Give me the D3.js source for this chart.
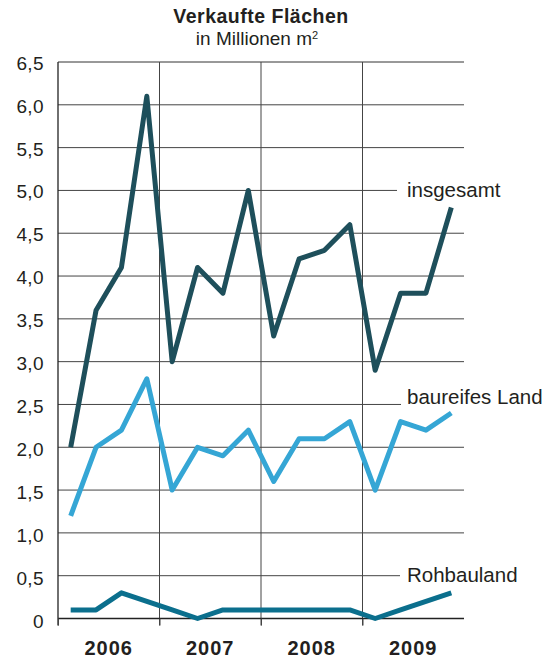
<!DOCTYPE html>
<html lang="de">
<head>
<meta charset="UTF-8">
<title>Verkaufte Flächen</title>
<style>
  body { margin: 0; background: #fff; }
  text { font-family: "Liberation Sans", Arial, sans-serif; fill: #231f20; }
</style>
</head>
<body>
<div id="chart"></div>
<script src="https://cdn.jsdelivr.net/npm/d3@7"></script>
<script>
// Daten (Quartale 2006-2009)
const years = ['2006', '2007', '2008', '2009']
const insgesamt = [2.0, 3.6, 4.1, 6.1, 3.0, 4.1, 3.8, 5.0, 3.3, 4.2, 4.3, 4.6, 2.9, 3.8, 3.8, 4.8]
const baureif = [1.2, 2.0, 2.2, 2.8, 1.5, 2.0, 1.9, 2.2, 1.6, 2.1, 2.1, 2.3, 1.5, 2.3, 2.2, 2.4]
const rohbau = [0.1, 0.1, 0.3, 0.2, 0.1, 0.0, 0.1, 0.1, 0.1, 0.1, 0.1, 0.1, 0.0, 0.1, 0.2, 0.3]
const yTicks = [0, 0.5, 1, 1.5, 2, 2.5, 3, 3.5, 4, 4.5, 5, 5.5, 6, 6.5]
const seriesNames = ['insgesamt', 'baureifes Land', 'Rohbauland']

let width = 560
let height = 662
let padLeft = 58, padRight = 464, padTop = 62, padBottom = 618.5

let svg = d3.select('#chart').append('svg').attr('width', width).attr('height', height)

let x = d3.scaleLinear().domain([0, insgesamt.length]).range([padLeft, padRight])
let y = d3.scaleLinear().domain([0, 6.5]).range([padBottom, padTop])

// Titel
svg.append('text').text('Verkaufte Flächen')
  .attr('x', 261).attr('y', 23).attr('text-anchor', 'middle')
  .style('font-weight', 'bold').style('font-size', '19.5px').style('letter-spacing', '0.5px')
let sub = svg.append('text').attr('x', 257).attr('y', 45).attr('text-anchor', 'middle').style('font-size', '19px')
sub.append('tspan').text('in Millionen m')
sub.append('tspan').text('2').attr('dy', -6).style('font-size', '11px')

// Gitternetz waagerecht; Linien neben den Beschriftungen kürzer
const shortLines = { 5: 397, 2.5: 401, 0.5: 400 }
svg.append('g').selectAll('line').data(yTicks.filter(d => d > 0)).join('line')
  .attr('x1', padLeft).attr('x2', d => shortLines[d] || padRight)
  .attr('y1', d => y(d)).attr('y2', d => y(d))
  .attr('stroke', d => d === 6.5 ? '#333' : '#444').attr('stroke-width', 1)

// senkrechte Jahreslinien
svg.append('g').selectAll('line').data([4, 8, 12]).join('line')
  .attr('x1', d => x(d)).attr('x2', d => x(d))
  .attr('y1', padTop).attr('y2', padBottom + 7)
  .attr('stroke', '#444').attr('stroke-width', 1)

// y-Achse (Beschriftung oben etwas tiefer, wie im Original)
let yAxis = d3.axisLeft(y).tickValues(yTicks).tickSize(0).tickPadding(14)
  .tickFormat(d => d === 0 ? '0' : d3.format('.1f')(d).replace('.', ','))
let ya = svg.append('g').attr('transform', 'translate(' + padLeft + ',0)').call(yAxis)
ya.select('.domain').remove()
ya.selectAll('text').style('font-size', '19px').style('letter-spacing', '0.4px')
  .attr('fill', '#231f20')
  .attr('y', d => (6.5 - d) * 0.3 + 1)
svg.append('line').attr('x1', padLeft).attr('x2', padLeft).attr('y1', padTop).attr('y2', padBottom + 7)
  .attr('stroke', '#222').attr('stroke-width', 1.3)

// x-Achse
let xAxis = d3.axisBottom(x).tickValues([0, 4, 8, 12]).tickSize(7).tickFormat('')
let xa = svg.append('g').attr('transform', 'translate(0,' + padBottom + ')').call(xAxis)
xa.select('.domain').attr('d', 'M' + padLeft + ',0H' + padRight).attr('stroke', '#222').attr('stroke-width', 1.6)
xa.selectAll('.tick line').attr('stroke', '#444')

svg.append('g').selectAll('text').data(years).join('text')
  .text(d => d)
  .attr('x', (d, i) => x(i * 4 + 2)).attr('y', 655)
  .attr('text-anchor', 'middle')
  .style('font-weight', 'bold').style('font-size', '20px').style('letter-spacing', '1px')

// Linien
let line = d3.line().x((d, i) => x(i + 0.5)).y(d => y(d))
const series = [
  { values: insgesamt, color: '#1e4f5b' },
  { values: baureif, color: '#35a6d5' },
  { values: rohbau, color: '#0b6f8d' }
]
svg.append('g').selectAll('path').data(series).join('path')
  .attr('d', d => line(d.values))
  .attr('fill', 'none')
  .attr('stroke', d => d.color)
  .attr('stroke-width', 5)
  .attr('stroke-linejoin', 'round')

// Beschriftungen der Reihen
const labelY = [197, 403.5, 582]
svg.append('g').selectAll('text').data(seriesNames).join('text')
  .text(d => d)
  .attr('x', 407).attr('y', (d, i) => labelY[i])
  .style('font-size', '20.5px')
</script>
</body>
</html>
